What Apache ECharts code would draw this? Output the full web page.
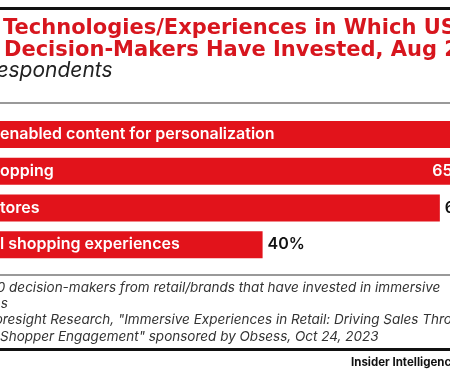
<!DOCTYPE html>
<html>
<head>
<meta charset="utf-8">
<script src="https://cdn.jsdelivr.net/npm/echarts@6/dist/echarts.min.js"></script>
<style>
  html, body { margin: 0; padding: 0; background: #fff; }
  #chart { width: 450px; height: 375px; }
</style>
</head>
<body>
<div id="chart"></div>
<script>
// visible parts of the (cropped) category labels
var categories = [
    'enabled content for personalization',
    'opping',
    'tores',
    'l shopping experiences'
];
var values = [71, 65, 61, 40];
// which value labels sit inside the bar end (white) and which outside (black)
var insideLabel = [true, true, false, false];

var red = '#e2131b';
var chart = echarts.init(document.getElementById('chart'));

var valueData = values.map(function (v, i) {
    return {
        value: v,
        label: insideLabel[i]
            ? { position: 'insideRight', color: '#fff' }
            : { position: 'right', color: '#111' }
    };
});

chart.setOption({
    animation: false,
    grid: { left: -75, top: 116, width: 844, height: 147, outerBoundsMode: 'none', containLabel: false },
    xAxis: { type: 'value', min: 0, max: 100, show: false },
    yAxis: { type: 'category', data: categories, inverse: true, show: false },
    series: [
        {
            type: 'bar',
            data: values,
            barWidth: 27,
            itemStyle: { color: red },
            label: {
                show: true,
                position: [75, '50%'],
                verticalAlign: 'middle',
                formatter: '{b}',
                color: '#fff',
                fontFamily: 'Inter',
                fontWeight: 600,
                fontSize: 16
            }
        },
        {
            type: 'bar',
            data: valueData,
            barWidth: 27,
            barGap: '-100%',
            itemStyle: { color: 'rgba(0,0,0,0)' },
            label: {
                show: true,
                distance: 5,
                formatter: '{c}%',
                fontFamily: 'Inter',
                fontWeight: 600,
                fontSize: 16
            }
        }
    ],
    graphic: [
        { type: 'rect', shape: { x: 0, y: 7, width: 450, height: 3 }, style: { fill: '#111' } },
        { type: 'text', x: 3, y: 18, style: { text: 'Technologies/Experiences in Which US Retail', fill: '#d7161e', font: 'bold 21px "DejaVu Sans"' } },
        { type: 'text', x: 4, y: 40, style: { text: 'Decision-Makers Have Invested, Aug 2023', fill: '#d7161e', font: 'bold 21px "DejaVu Sans"' } },
        { type: 'text', x: -64, y: 60, style: { text: '% of respondents', fill: '#222', font: 'italic 21px Inter' } },
        { type: 'rect', shape: { x: 0, y: 102, width: 450, height: 2 }, style: { fill: '#999' } },
        { type: 'rect', shape: { x: 0, y: 274, width: 450, height: 2 }, style: { fill: '#999' } },
        { type: 'text', x: -75, y: 281, style: { text: 'Note: n=300 decision-makers from retail/brands that have invested in immersive', fill: '#333', font: 'italic 13.5px Inter' } },
        { type: 'text', x: -70, y: 297, style: { text: 'experiences', fill: '#333', font: 'italic 13.5px Inter' } },
        { type: 'text', x: -68, y: 313, style: { text: 'Source: Coresight Research, "Immersive Experiences in Retail: Driving Sales Through', fill: '#333', font: 'italic 13.5px Inter' } },
        { type: 'text', x: 0, y: 330, style: { text: 'Shopper Engagement" sponsored by Obsess, Oct 24, 2023', fill: '#333', font: 'italic 13.5px Inter' } },
        { type: 'rect', shape: { x: 0, y: 348, width: 450, height: 3 }, style: { fill: '#111' } },
        { type: 'text', x: 351, y: 357, style: { text: 'Insider Intelligence', fill: '#111', font: 'bold 11.5px Inter' } }
    ]
});
</script>
</body>
</html>
